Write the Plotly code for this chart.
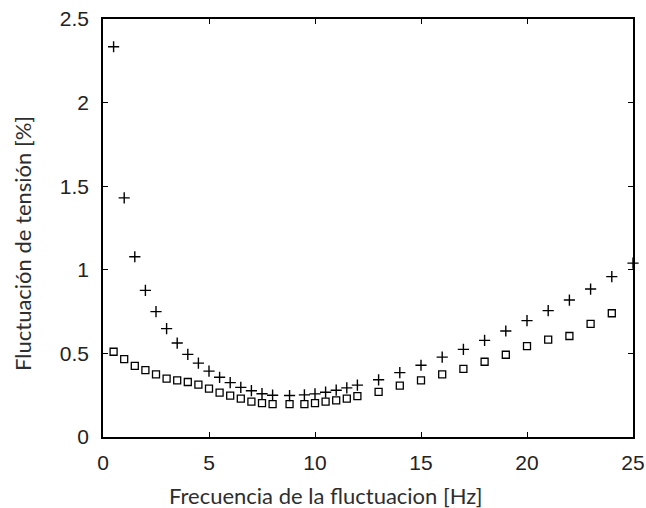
import plotly.graph_objects as go

# Frequencies [Hz]
freq_sin = [0.5, 1.0, 1.5, 2.0, 2.5, 3.0, 3.5, 4.0, 4.5, 5.0, 5.5, 6.0, 6.5, 7.0, 7.5, 8.0,
            8.8, 9.5, 10.0, 10.5, 11.0, 11.5, 12.0, 13.0, 14.0, 15.0, 16.0, 17.0, 18.0,
            19.0, 20.0, 21.0, 22.0, 23.0, 24.0, 25.0]
# Plus markers series
val_sin = [2.334, 1.430, 1.078, 0.877, 0.750, 0.648, 0.562, 0.494, 0.442, 0.394, 0.357, 0.325,
           0.297, 0.277, 0.259, 0.250, 0.248, 0.252, 0.258, 0.268, 0.280, 0.294, 0.310,
           0.342, 0.385, 0.429, 0.478, 0.524, 0.578, 0.634, 0.696, 0.756, 0.819, 0.885,
           0.959, 1.040]

freq_rect = [0.5, 1.0, 1.5, 2.0, 2.5, 3.0, 3.5, 4.0, 4.5, 5.0, 5.5, 6.0, 6.5, 7.0, 7.5, 8.0,
             8.8, 9.5, 10.0, 10.5, 11.0, 11.5, 12.0, 13.0, 14.0, 15.0, 16.0, 17.0, 18.0,
             19.0, 20.0, 21.0, 22.0, 23.0, 24.0]
# Square markers series
val_rect = [0.510, 0.466, 0.425, 0.400, 0.375, 0.349, 0.339, 0.329, 0.313, 0.289, 0.265, 0.247,
            0.229, 0.211, 0.203, 0.197, 0.197, 0.197, 0.203, 0.211, 0.219, 0.229, 0.245,
            0.270, 0.307, 0.339, 0.375, 0.407, 0.450, 0.492, 0.544, 0.582, 0.604, 0.676,
            0.740]

x_ticks = [0, 5, 10, 15, 20, 25]
y_ticks = [0, 0.5, 1, 1.5, 2, 2.5]
y_tick_text = ["0", "0.5", "1", "1.5", "2", "2.5"]

x_title = "Frecuencia de la fluctuacion [Hz]"
y_title = "Fluctuación de tensión [%]"

fig = go.Figure()
fig.add_trace(go.Scatter(
    x=freq_sin, y=val_sin, mode="markers", cliponaxis=False,
    marker=dict(symbol="cross-thin-open", size=8, color="black",
                line=dict(color="black", width=1.4)),
    showlegend=False))
fig.add_trace(go.Scatter(
    x=freq_rect, y=val_rect, mode="markers", cliponaxis=False,
    marker=dict(symbol="square-open", size=7, color="black",
                line=dict(color="black", width=1.3)),
    showlegend=False))

axis_common = dict(
    showline=True, linecolor="black", linewidth=1.5, mirror="allticks",
    ticks="inside", ticklen=5, tickwidth=1, tickcolor="black",
    showgrid=False, zeroline=False, automargin=False,
    tickfont=dict(family="Liberation Sans", size=21, color="#222222"),
)

fig.update_xaxes(range=[0, 25], tickvals=x_ticks, ticktext=[str(t) for t in x_ticks],
                 ticklabelstandoff=6, **axis_common)
fig.update_yaxes(range=[0, 2.5], tickvals=y_ticks, ticktext=y_tick_text,
                 ticklabelstandoff=8, **axis_common)

title_font = dict(family="Lato", size=22, color="#2e2e2e")
fig.add_annotation(text=x_title, xref="paper", yref="paper", x=0.42, y=-0.139,
                   xanchor="center", yanchor="middle", showarrow=False, font=title_font)
fig.add_annotation(text=y_title, xref="paper", yref="paper", x=-0.153, y=0.464,
                   xanchor="center", yanchor="middle", textangle=-90, showarrow=False,
                   font=title_font)

fig.update_layout(
    width=646, height=508,
    margin=dict(l=103, r=13, t=19, b=71),
    paper_bgcolor="white", plot_bgcolor="white",
)

fig.write_html("out.html")
